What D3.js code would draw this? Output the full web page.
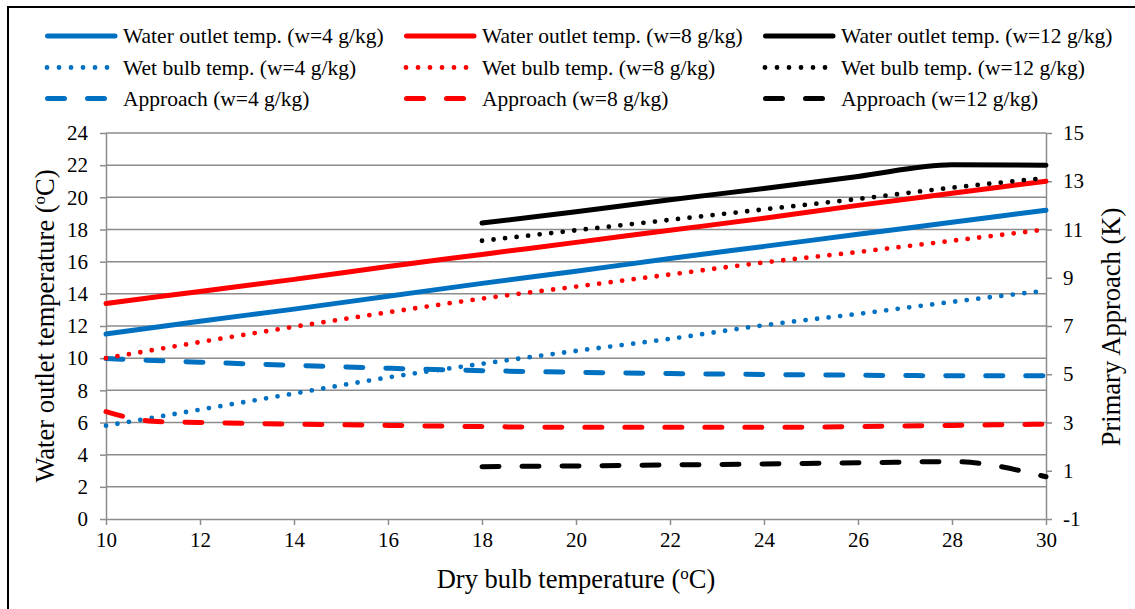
<!DOCTYPE html>
<html><head><meta charset="utf-8">
<script src="https://cdn.jsdelivr.net/npm/d3@7"></script>
<style>body{margin:0;background:#fff}svg{display:block}text{font-family:"Liberation Serif","Times New Roman",serif;fill:#000}</style>
</head><body><svg id="c" width="1135" height="609"></svg>
<script>
// Dry bulb temperature (°C)
const xFull = [10,12,14,16,18,20,22,24,26,28,30];
const xHigh = [18,20,22,24,26,28,30];
// Water outlet temperature (left axis, °C)
const outlet4  = [11.5,12.3,13.05,13.85,14.65,15.4,16.2,16.95,17.7,18.45,19.2];
const outlet8  = [13.4,14.15,14.9,15.7,16.45,17.2,17.95,18.7,19.5,20.25,21.0];
const outlet12 = [18.4,19.1,19.85,20.55,21.3,22.02,22.0];
// Wet bulb temperature (left axis, °C)
const wet4  = [5.8,6.8,7.8,8.8,9.65,10.45,11.2,12.05,12.75,13.5,14.2];
const wet8  = [10.0,11.0,11.95,12.85,13.7,14.45,15.2,15.95,16.6,17.3,18.0];
const wet12 = [17.3,17.95,18.6,19.25,19.9,20.6,21.2];
// Primary approach (right axis, K)
const appr4  = [5.65,5.5,5.37,5.25,5.15,5.08,5.03,4.99,4.96,4.94,4.94];
const appr8x = [10,11,12,14,16,18,20,22,24,26,28,30];
const appr8  = [3.45,3.05,3.0,2.93,2.88,2.83,2.8,2.8,2.8,2.83,2.88,2.93];
const appr12 = [1.17,1.2,1.24,1.28,1.33,1.38,0.75];
// Ticks
const xTicks = [10,12,14,16,18,20,22,24,26,28,30];
const yLeftTicks = [0,2,4,6,8,10,12,14,16,18,20,22,24];
const yRightTicks = [-1,1,3,5,7,9,11,13,15];

const colors = {w4:"#0070C0", w8:"#FF0000", w12:"#000000"};
const series = [
  {label:"Water outlet temp. (w=4 g/kg)", x:xFull, y:outlet4, c:colors.w4, s:"solid", ax:"L"},
  {label:"Wet bulb temp. (w=4 g/kg)", x:xFull, y:wet4, c:colors.w4, s:"dot", ax:"L"},
  {label:"Approach (w=4 g/kg)", x:xFull, y:appr4, c:colors.w4, s:"dash", ax:"R"},
  {label:"Water outlet temp. (w=8 g/kg)", x:xFull, y:outlet8, c:colors.w8, s:"solid", ax:"L"},
  {label:"Wet bulb temp. (w=8 g/kg)", x:xFull, y:wet8, c:colors.w8, s:"dot", ax:"L"},
  {label:"Approach (w=8 g/kg)", x:appr8x, y:appr8, c:colors.w8, s:"dash", ax:"R"},
  {label:"Water outlet temp. (w=12 g/kg)", x:xHigh, y:outlet12, c:colors.w12, s:"solid", ax:"L"},
  {label:"Wet bulb temp. (w=12 g/kg)", x:xHigh, y:wet12, c:colors.w12, s:"dot", ax:"L"},
  {label:"Approach (w=12 g/kg)", x:xHigh, y:appr12, c:colors.w12, s:"dash", ax:"R"}
];

const svg = d3.select("#c");
const L=106, R=1046, T=133, B=519;
const x = d3.scaleLinear().domain([10,30]).range([L,R]);
const yL = d3.scaleLinear().domain([0,24]).range([B,T]);
const yR = d3.scaleLinear().domain([-1,15]).range([B,T]);
const grid = "#8c8c8c";

// outer border
svg.append("rect").attr("x",8).attr("y",7).attr("width",1140).attr("height",620)
  .attr("fill","none").attr("stroke","#000").attr("stroke-width",2);

// gridlines
svg.append("g").selectAll("line").data(yLeftTicks.filter(d=>d>0)).join("line")
  .attr("x1",L).attr("x2",R).attr("y1",d=>yL(d)).attr("y2",d=>yL(d))
  .attr("stroke",grid).attr("stroke-width",1.5);

function styleAxis(g){
  g.attr("font-family","Liberation Serif");
  g.select(".domain").attr("stroke",grid).attr("stroke-width",1.5);
  g.selectAll(".tick line").attr("stroke",grid).attr("stroke-width",1.5);
  g.selectAll("text").style("font-family","'Liberation Serif','Times New Roman',serif").style("font-size","21px").attr("fill","#000");
}
const fmt = d => String(d);
const gx = svg.append("g").attr("transform",`translate(0,${B})`)
  .call(d3.axisBottom(x).tickValues(xTicks).tickSize(6).tickSizeOuter(0).tickPadding(7).tickFormat(fmt));
styleAxis(gx);
const gl = svg.append("g").attr("transform",`translate(${L},0)`)
  .call(d3.axisLeft(yL).tickValues(yLeftTicks).tickSize(6).tickSizeOuter(0).tickPadding(12).tickFormat(fmt));
styleAxis(gl);
const gr = svg.append("g").attr("transform",`translate(${R},0)`)
  .call(d3.axisRight(yR).tickValues(yRightTicks).tickSize(6).tickSizeOuter(0).tickPadding(11).tickFormat(fmt));
styleAxis(gr);

function dash(s){ return s==="dot" ? "0 11.6" : s==="dash" ? "17 23" : null; }

const plot = svg.append("g");
series.forEach(s=>{
  const ys = s.ax==="L" ? yL : yR;
  const pts = s.x.map((v,i)=>[v,s.y[i]]);
  const line = d3.line().x(d=>x(d[0])).y(d=>ys(d[1])).curve(d3.curveMonotoneX);
  plot.append("path").attr("d",line(pts)).attr("fill","none")
    .attr("stroke",s.c).attr("stroke-width",s.s==="dot"?4.8:5)
    .attr("stroke-linecap","round").attr("stroke-linejoin","round")
    .attr("stroke-dasharray",dash(s.s));
});

// legend
const colX = [45,404,763];
const rowY = [36,67.5,98.5];
const order = [[0,1,2],[3,4,5],[6,7,8]];
order.forEach((col,ci)=>{
  col.forEach((si,ri)=>{
    const s = series[si];
    const g = svg.append("g");
    const x0 = colX[ci];
    let x1 = x0+2.5, x2 = x0+70, da = null;
    if (s.s==="dot") { x1 = x0+2; x2 = x0+62.1; da = "0 12"; }
    if (s.s==="dash") { x1 = x0+2.5; x2 = x0+62.5; da = "17 23"; }
    g.append("line").attr("x1",x1).attr("x2",x2).attr("y1",rowY[ri]).attr("y2",rowY[ri])
      .attr("stroke",s.c).attr("stroke-width",s.s==="dot"?4.8:5).attr("stroke-linecap","round")
      .attr("stroke-dasharray",da);
    g.append("text").attr("x",x0+78).attr("y",rowY[ri]).attr("dy","0.33em")
      .style("font-size","21.5px").text(s.label);
  });
});

// axis titles
function titleWithDeg(t, main){
  t.append("tspan").text(main+" (");
  t.append("tspan").text("o").style("font-size","17px").attr("dy","-9");
  t.append("tspan").text("C)").attr("dy","9");
}
const xt = svg.append("text").attr("x",576).attr("y",588).attr("text-anchor","middle").style("font-size","26.5px");
titleWithDeg(xt,"Dry bulb temperature");
const ylt = svg.append("text").attr("transform",`translate(54,326) rotate(-90)`).attr("text-anchor","middle").style("font-size","26.5px");
titleWithDeg(ylt,"Water outlet temperature");
svg.append("text").attr("transform",`translate(1120,327) rotate(-90)`).attr("text-anchor","middle")
  .style("font-size","26.5px").text("Primary Approach (K)");
</script></body></html>
